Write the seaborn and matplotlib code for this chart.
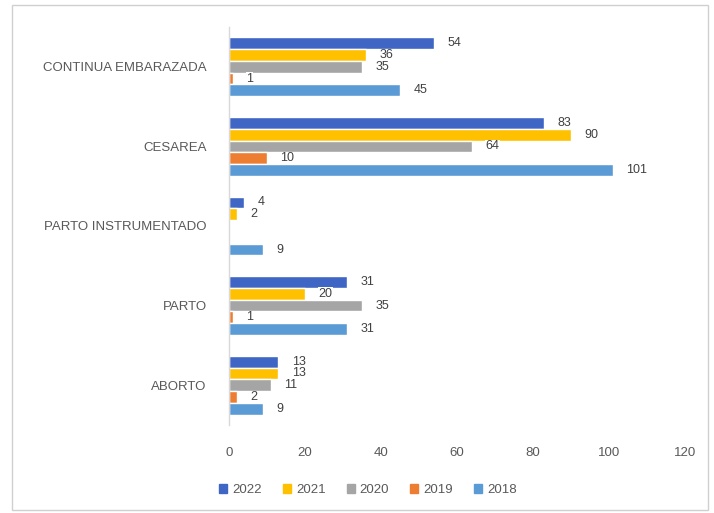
import matplotlib
matplotlib.use("Agg")
import matplotlib.pyplot as plt
import seaborn as sns
import pandas as pd

categories = ["CONTINUA EMBARAZADA", "CESAREA", "PARTO INSTRUMENTADO", "PARTO", "ABORTO"]
years = ["2022", "2021", "2020", "2019", "2018"]
values_2022 = [54, 83, 4, 31, 13]
values_2021 = [36, 90, 2, 20, 13]
values_2020 = [35, 64, 0, 35, 11]
values_2019 = [1, 10, 0, 1, 2]
values_2018 = [45, 101, 9, 31, 9]
x_ticks = [0, 20, 40, 60, 80, 100, 120]

colors = ["#3F66C4", "#FFC000", "#A5A5A5", "#ED7D31", "#5B9BD5"]

series = [values_2022, values_2021, values_2020, values_2019, values_2018]
rows = []
for year, vals in zip(years, series):
    for cat, v in zip(categories, vals):
        rows.append({"categoria": cat, "anio": year, "valor": v})
df = pd.DataFrame(rows)

sns.set_style("white")
plt.rcParams["font.family"] = ["Liberation Sans", "DejaVu Sans"]

fig = plt.figure(figsize=(7.14, 5.13), dpi=100)
# axes: x 229..685 px, y 27..425 px
ax = fig.add_axes([229 / 714, 1 - 425 / 513, 456 / 714, 398 / 513])

sns.barplot(data=df, y="categoria", x="valor", hue="anio", order=categories,
            hue_order=years, palette=colors, orient="h", width=0.74,
            saturation=1, ax=ax, legend=False, errorbar=None)

# value labels beside each bar
for container, vals in zip(ax.containers, series):
    for bar, v in zip(container, vals):
        if v == 0:
            continue
        y = bar.get_y() + bar.get_height() / 2
        ax.text(bar.get_width() + 3.5, y, str(v), va="center", ha="left",
                fontsize=9, color="#404040",
                bbox=dict(facecolor="white", edgecolor="none", pad=0.3))

ax.set_xlim(0, 120)
ax.set_xticks(x_ticks)
ax.set_xticklabels([str(t) for t in x_ticks], fontsize=9.5, color="#595959")
ax.tick_params(axis="x", length=0, pad=16)
ax.tick_params(axis="y", length=0, pad=16, labelsize=9.5, labelcolor="#595959")
ax.set_xlabel("")
ax.set_ylabel("")
for s in ["top", "right", "bottom"]:
    ax.spines[s].set_visible(False)
ax.spines["left"].set_color("#D9D9D9")
ax.spines["left"].set_linewidth(1)

handles = [plt.Rectangle((0, 0), 1, 1, color=c) for c in colors]
fig.legend(handles, years, loc="center", bbox_to_anchor=(368 / 714, 1 - 490 / 513),
           ncol=5, frameon=False, fontsize=9.5, handlelength=0.6,
           handleheight=0.6, handletextpad=0.4, columnspacing=1.6,
           labelcolor="#595959")

fig.patches.append(plt.Rectangle((0.017, 0.005), 0.975, 0.985, transform=fig.transFigure,
                                 fill=False, edgecolor="#D0D0D0", linewidth=1))

fig.savefig("out.png", dpi=100)
